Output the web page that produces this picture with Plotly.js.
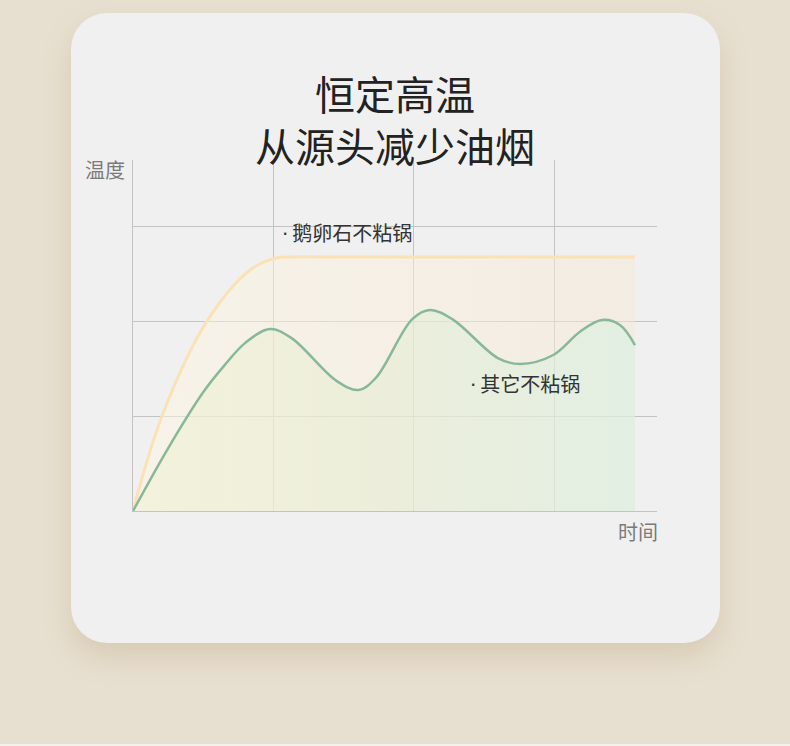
<!DOCTYPE html>
<html>
<head>
<meta charset="utf-8">
<script src="https://cdn.plot.ly/plotly-3.0.1.min.js"></script>
<style>
  html, body { margin: 0; padding: 0; }
  body { width: 790px; height: 746px; background: #e7dfd0; position: relative; overflow: hidden; }
  #card { position: absolute; left: 71px; top: 13px; width: 649px; height: 630px; background: #f0f0f0;
          border-radius: 36px; box-shadow: 0 14px 26px rgba(190, 170, 130, 0.35); }
  #edge { position: absolute; left: 0; bottom: 0; width: 790px; height: 2px; background: #f3f1ec; }
  #plot { position: absolute; left: 0; top: 0; width: 790px; height: 746px; }
</style>
</head>
<body>
<div id="card"></div>
<div id="edge"></div>
<div id="plot"></div>
<script>
// 鹅卵石不粘锅: rises fast and holds a constant temperature
const stoneX = [0, 0.205, 0.525, 0.834, 1.0, 1.15, 1.35, 3.577];
const stoneY = [0, 0.993, 1.993, 2.537, 2.655, 2.675, 2.675, 2.675];

// 其它不粘锅: temperature swings up and down
const otherX = [0, 0.25, 0.5, 0.65, 0.80, 0.976, 1.13, 1.45, 1.606, 1.73, 1.99, 2.116,
                2.28, 2.6, 2.758, 2.995, 3.185, 3.340, 3.47, 3.577];
const otherY = [0, 0.66, 1.25, 1.53, 1.77, 1.916, 1.82, 1.37, 1.274, 1.40, 2.02, 2.116,
                2.015, 1.61, 1.547, 1.642, 1.887, 2.011, 1.958, 1.747];

const seriesNames = ['鹅卵石不粘锅', '其它不粘锅'];
const labelPos = [[1.045, 2.93], [2.384, 1.34]];

const font = 'Noto Sans CJK SC, Noto Sans, sans-serif';
const dot = '<span style="font-family:DejaVu Sans">·\u2009</span>';

const stone = {
  type: 'scatter',
  mode: 'lines',
  x: stoneX,
  y: stoneY,
  line: { color: '#fbe2b6', width: 3, shape: 'spline', smoothing: 1 },
  fill: 'tozeroy',
  fillgradient: {
    type: 'horizontal',
    colorscale: [[0, 'rgba(255,246,226,0.5)'], [1, 'rgba(246,232,214,0.5)']]
  },
  hoverinfo: 'skip'
};

const other = {
  type: 'scatter',
  mode: 'lines',
  x: otherX,
  y: otherY,
  line: { color: '#88b898', width: 2.5, shape: 'spline', smoothing: 1 },
  fill: 'tozeroy',
  fillgradient: {
    type: 'horizontal',
    colorscale: [[0, 'rgba(238,241,204,0.45)'], [0.5, 'rgba(225,236,205,0.45)'], [1, 'rgba(207,242,227,0.45)']]
  },
  hoverinfo: 'skip'
};

const annotations = seriesNames.map((t, i) => ({
  text: dot + t,
  x: labelPos[i][0],
  y: labelPos[i][1],
  xref: 'x',
  yref: 'y',
  xanchor: 'left',
  yanchor: 'middle',
  showarrow: false,
  font: { family: font, size: 20, color: '#333333' }
}));

annotations.push({
  text: '温度', xref: 'paper', yref: 'paper', x: -0.011, y: 1.019,
  xanchor: 'right', yanchor: 'top', showarrow: false,
  font: { family: font, size: 20, color: '#7a7a7a' }
});
annotations.push({
  text: '时间', xref: 'paper', yref: 'paper', x: 1.006, y: -0.01,
  xanchor: 'right', yanchor: 'top', showarrow: false,
  font: { family: font, size: 20, color: '#7a7a7a' }
});

const axis = {
  dtick: 1,
  showgrid: true,
  gridcolor: '#c3c3c3',
  gridwidth: 1,
  showline: true,
  linecolor: '#c3c3c3',
  linewidth: 1,
  zeroline: false,
  showticklabels: false,
  ticks: '',
  fixedrange: true
};

const layout = {
  width: 790,
  height: 746,
  margin: { l: 133, r: 133, t: 160, b: 235 },
  paper_bgcolor: 'rgba(0,0,0,0)',
  plot_bgcolor: 'rgba(0,0,0,0)',
  showlegend: false,
  title: {
    text: '恒定高温<br>从源头减少油烟',
    font: { family: font, size: 40, color: '#222222' },
    x: 0.5,
    xanchor: 'center',
    yref: 'container',
    y: 0.8525,
    yanchor: 'middle'
  },
  xaxis: Object.assign({ range: [0, 3.734] }, axis),
  yaxis: Object.assign({ range: [0, 3.695] }, axis),
  annotations: annotations
};

Plotly.newPlot('plot', [stone, other], layout, { displayModeBar: false, staticPlot: true });
</script>
</body>
</html>
